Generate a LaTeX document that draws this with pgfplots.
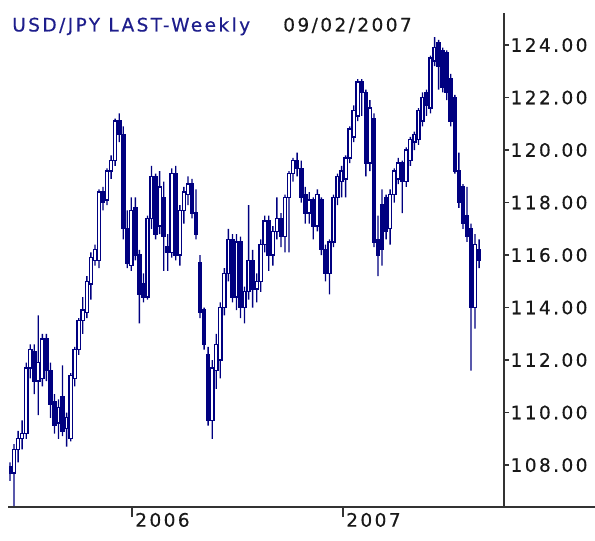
\documentclass[border=0pt]{standalone}
\usepackage{fontspec}
\setmainfont{DejaVu Sans}[LetterSpace=13, FakeBold=0.4]
\usepackage{pgfplots}
\usepackage{pgfplotstable}
\pgfplotsset{compat=1.18}
\definecolor{candle}{HTML}{000080}
\definecolor{titleblue}{HTML}{1E1E8C}
\definecolor{axisgray}{HTML}{333333}
\newcommand\chartfont{\fontsize{13.9}{16}\selectfont}

% weekly USD/JPY: week index, open, high, low, close
\pgfplotstableread{
i o h l c
0 107.95 108.10 107.40 107.70
1 107.70 108.80 106.30 108.60
2 108.60 109.30 108.10 109.00
3 109.00 109.70 108.60 109.20
4 109.20 111.90 109.00 111.70
5 111.70 112.60 111.30 112.40
6 112.30 112.60 110.70 111.20
7 111.20 113.70 109.90 111.90
8 111.30 113.00 111.00 112.80
9 112.80 113.00 111.20 111.60
10 111.60 111.90 109.80 110.30
11 110.40 110.70 109.20 109.50
12 109.60 110.50 109.00 110.20
13 110.60 111.80 109.10 109.30
14 109.40 110.00 108.70 109.80
15 109.00 111.50 108.90 111.40
16 111.30 112.50 111.00 112.40
17 112.40 113.60 112.20 113.50
18 113.50 114.40 113.00 113.90
19 113.80 115.20 113.60 115.00
20 114.90 116.10 114.30 115.90
21 115.80 116.40 115.60 116.20
22 115.80 118.50 115.50 118.40
23 118.40 118.60 117.70 118.00
24 118.10 119.30 117.90 119.20
25 119.20 119.80 118.90 119.60
26 119.60 121.20 119.40 121.10
27 121.10 121.40 120.30 120.60
28 120.60 120.90 116.60 117.00
29 117.00 117.70 115.50 115.70
30 115.60 118.20 115.40 117.70
31 117.80 118.20 115.80 116.00
32 116.00 116.20 113.40 114.50
33 114.90 115.30 114.20 114.40
34 114.40 117.50 114.30 117.40
35 117.40 119.40 117.00 119.00
36 119.00 119.10 116.60 116.80
37 117.10 119.20 116.80 118.60
38 118.20 118.80 115.40 116.70
39 116.30 116.80 115.40 116.10
40 116.10 119.30 115.90 119.10
41 119.10 119.40 115.80 116.00
42 116.00 117.90 115.60 117.70
43 117.70 118.60 117.20 118.40
44 118.30 119.00 117.90 118.70
45 118.70 118.90 117.40 117.60
46 117.60 118.50 116.60 116.80
47 115.70 116.00 113.60 113.80
48 113.90 114.00 112.40 112.60
49 112.20 112.50 109.50 109.70
50 109.70 112.00 109.00 111.70
51 111.60 113.00 110.90 112.60
52 112.00 114.20 111.30 114.00
53 114.00 115.50 113.70 115.30
54 115.30 117.00 115.00 116.60
55 116.60 116.80 114.20 114.40
56 114.40 116.80 113.90 116.50
57 116.50 116.70 113.60 114.00
58 114.00 114.80 113.40 114.60
59 114.60 117.90 114.30 115.80
60 115.80 116.20 114.00 114.70
61 114.70 115.30 114.20 115.00
62 115.00 116.60 114.60 116.40
63 116.40 117.50 116.10 117.30
64 117.30 117.50 115.40 116.00
65 116.00 117.10 115.60 116.90
66 116.90 118.20 116.60 117.40
67 117.40 117.60 116.30 116.70
68 116.70 118.30 116.10 118.20
69 118.20 119.20 116.10 119.10
70 119.10 119.70 118.80 119.60
71 119.60 119.90 119.00 119.30
72 119.30 119.60 118.00 118.20
73 118.30 118.60 117.20 117.60
74 117.60 118.40 117.20 118.10
75 118.10 118.20 116.60 117.10
76 117.10 118.50 116.90 118.30
77 118.10 118.20 116.00 116.20
78 116.20 116.40 115.00 115.30
79 115.30 116.60 114.50 116.50
80 116.50 118.30 116.30 118.20
81 118.20 119.10 117.90 119.00
82 118.80 119.40 118.20 119.20
83 118.90 119.80 118.20 119.70
84 119.70 120.90 119.50 120.80
85 120.50 121.70 120.30 121.50
86 121.30 122.70 121.10 122.60
87 122.60 122.70 121.30 122.20
88 122.20 122.30 119.00 119.50
89 119.50 121.90 119.20 121.60
90 121.20 121.40 116.30 116.50
91 116.60 117.50 115.20 116.00
92 117.90 118.50 115.60 116.20
93 118.20 118.30 116.60 116.90
94 117.00 118.50 116.40 118.30
95 118.30 119.30 118.00 119.20
96 118.90 119.70 118.70 119.50
97 119.50 119.60 117.60 118.80
98 118.80 120.10 118.60 120.00
99 119.60 120.50 119.40 120.40
100 120.30 120.70 120.00 120.60
101 120.40 121.60 120.20 121.50
102 121.10 122.20 120.90 122.00
103 122.20 122.30 121.30 121.70
104 121.60 123.60 121.40 123.50
105 123.40 124.30 123.20 123.90
106 124.10 124.20 122.30 123.20
107 123.80 123.90 122.20 122.40
108 123.70 123.80 121.90 122.20
109 122.70 122.90 120.90 121.10
110 122.00 122.10 119.10 119.20
111 119.20 119.90 117.80 118.00
112 118.60 118.70 117.00 117.20
113 117.50 118.60 116.50 116.70
114 117.00 117.20 111.60 114.00
115 114.00 116.80 113.20 116.40
116 116.20 116.60 115.50 115.80
}\usdjpy

\pgfplotsset{
  chartbase/.style={
    at={(6.75pt,24.75pt)}, anchor=south west,
    scale only axis, width=371.25pt, height=370.5pt,
    xmin=-0.25, xmax=122.16, ymin=106.4, ymax=125.22,
    enlargelimits=false,
    ybar stacked,
  }
}

\begin{document}
\begin{tikzpicture}
\path[use as bounding box] (0,0) rectangle (446.25pt,405pt);

% wicks and axes
\begin{axis}[chartbase,
  bar width=1pt,
  axis x line=bottom, axis y line=right,
  axis line style={-, draw=axisgray, line width=1.5pt},
  ytick={108,110,...,124},
  xtick={30.17,82.34}, xticklabels={2006,2007},
  tick align=outside,
  major tick length=3.75pt,
  ytick style={axisgray, line width=0.8pt},
  xtick style={axisgray, line width=0.8pt, /pgfplots/major tick length=7.5pt},
  yticklabel={\pgfmathprintnumber[assume math mode=true, fixed, fixed zerofill, precision=2]{\tick}},
  yticklabel style={font=\chartfont, text=black!90, inner sep=0pt, anchor=west, xshift=1pt},
  xticklabel style={font=\chartfont, text=black!90, inner sep=0pt, anchor=north west, xshift=2.25pt, yshift=-0.5pt},
]
\addplot[draw=none, fill=none] table[x=i, y=l]{\usdjpy};
\addplot[draw=none, fill=candle] table[x=i, y expr={\thisrow{h}-\thisrow{l}}]{\usdjpy};
\end{axis}

% candle bodies: hollow when the week closed up, filled when it closed down
\begin{axis}[chartbase, hide axis, bar width=2.4pt]
\addplot[draw=none, fill=none] table[x=i, y expr={min(\thisrow{o},\thisrow{c})}]{\usdjpy};
\addplot[draw=candle, fill=white, line width=1.1pt] table[x=i, y expr={max(\thisrow{c}-\thisrow{o},0)}]{\usdjpy};
\addplot[draw=candle, fill=candle, line width=1.1pt] table[x=i, y expr={max(\thisrow{o}-\thisrow{c},0)}]{\usdjpy};
\end{axis}

\draw[axisgray, line width=1.5pt] (6pt,24.75pt) -- (446.25pt,24.75pt);
\node[anchor=base west, inner sep=0pt, text=titleblue, font=\chartfont] at (9pt,381.4pt) {USD/JPY LAST-Weekly};
\node[anchor=base west, inner sep=0pt, text=black!90, font=\chartfont] at (212.25pt,381.4pt) {09/02/2007};
\end{tikzpicture}
\end{document}
